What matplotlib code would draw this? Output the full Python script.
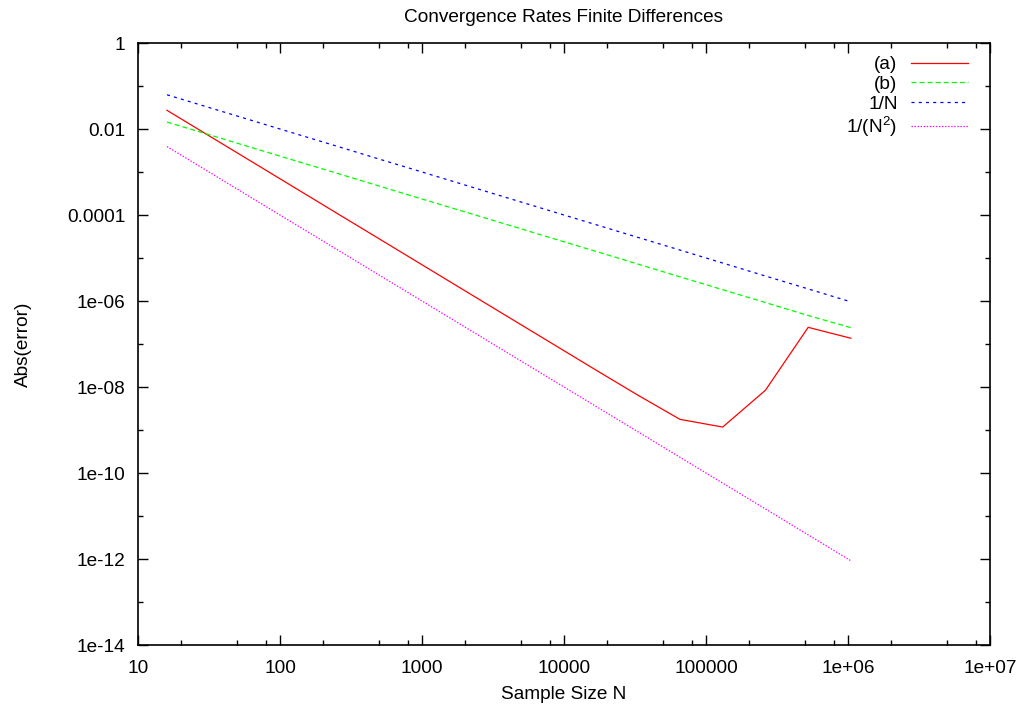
# -*- coding: utf-8 -*-

# convergence rates of two finite difference schemes, log-log

import numpy as np
import matplotlib
matplotlib.use('Agg')
import matplotlib.pyplot as plt
from matplotlib.ticker import LogLocator, FixedLocator, NullFormatter

# %% ======================== data ==========================================

# sample sizes N = 2^4 ... 2^20
N = [16, 32, 64, 128, 256, 512, 1024, 2048, 4096, 8192, 16384, 32768,
     65536, 131072, 262144, 524288, 1048576]

# absolute error, scheme (a)
err_a = [2.72e-2, 6.8e-3, 1.7e-3, 4.25e-4, 1.06e-4, 2.66e-5, 6.64e-6,
         1.66e-6, 4.15e-7, 1.04e-7, 2.6e-8, 6.6e-9, 1.77e-9, 1.17e-9,
         8.4e-9, 2.44e-7, 1.36e-7]

# absolute error, scheme (b)
err_b = [1.45e-2, 7.3e-3, 3.65e-3, 1.83e-3, 9.2e-4, 4.6e-4, 2.3e-4,
         1.16e-4, 5.8e-5, 2.9e-5, 1.46e-5, 7.3e-6, 3.65e-6, 1.83e-6,
         9.2e-7, 4.6e-7, 2.4e-7]

# reference slopes
ref_1 = [6.25e-2, 3.125e-2, 1.5625e-2, 7.81e-3, 3.91e-3, 1.95e-3, 9.77e-4,
         4.88e-4, 2.44e-4, 1.22e-4, 6.10e-5, 3.05e-5, 1.53e-5, 7.63e-6,
         3.81e-6, 1.91e-6, 9.54e-7]
ref_2 = [3.91e-3, 9.77e-4, 2.44e-4, 6.10e-5, 1.53e-5, 3.81e-6, 9.54e-7,
         2.38e-7, 5.96e-8, 1.49e-8, 3.73e-9, 9.31e-10, 2.33e-10, 5.82e-11,
         1.46e-11, 3.64e-12, 9.09e-13]

etiquetas = ['(a)', '(b)', '1/N', '1/(N$^2$)']
colores = ['#ff0000', '#00ff00', '#0000ff', '#ff00ff']

y_ticks = [1, 1e-2, 1e-4, 1e-6, 1e-8, 1e-10, 1e-12, 1e-14]
y_tick_labels = ['1', '0.01', '0.0001', '1e-06', '1e-08', '1e-10', '1e-12',
                 '1e-14']
x_ticks = [10, 100, 1000, 10000, 100000, 1e6, 1e7]
x_tick_labels = ['10', '100', '1000', '10000', '100000', '1e+06', '1e+07']

# %% ======================== figure ========================================

plt.rcParams['font.family'] = ['Liberation Sans', 'DejaVu Sans']
plt.rcParams['mathtext.fontset'] = 'custom'
plt.rcParams['mathtext.rm'] = 'Liberation Sans'
plt.rcParams['mathtext.default'] = 'regular'
plt.rcParams['lines.scale_dashes'] = False

fs = 13.7

fig = plt.figure(figsize=(10.22, 7.11), dpi=100)
ax = fig.add_axes([138/1022, 66/711, 852/1022, 602/711])

estilos = ['-', (0, (3.6, 2.2)), (0, (2.2, 3.0)), (0, (1.0, 1.2))]
series = [err_a, err_b, ref_1, ref_2]
for s, lab, c, ls in zip(series, etiquetas, colores, estilos):
    ax.plot(N, s, color=c, linestyle=ls, lw=0.9, label=lab)

ax.set_xscale('log')
ax.set_yscale('log')
ax.set_xlim(10, 1e7)
ax.set_ylim(1e-14, 1)

ax.xaxis.set_major_locator(FixedLocator(x_ticks))
ax.set_xticklabels(x_tick_labels)
ax.xaxis.set_minor_locator(LogLocator(base=10, subs=[2, 5, 8]))
ax.xaxis.set_minor_formatter(NullFormatter())

ax.yaxis.set_major_locator(FixedLocator(y_ticks))
ax.set_yticklabels(y_tick_labels)
ax.yaxis.set_minor_locator(FixedLocator([1e-1, 1e-3, 1e-5, 1e-7, 1e-9,
                                         1e-11, 1e-13]))
ax.yaxis.set_minor_formatter(NullFormatter())

ax.tick_params(which='both', direction='in', top=True, right=True,
               labelsize=fs, width=1)
ax.tick_params(which='major', length=7)
ax.tick_params(which='minor', length=3.5)
ax.tick_params(axis='x', which='major', pad=10.5)
ax.tick_params(axis='y', which='major', pad=9)
for sp in ax.spines.values():
    sp.set_linewidth(1.2)

ax.set_title('Convergence Rates Finite Differences', fontsize=fs, pad=15)
ax.set_xlabel('Sample Size N', fontsize=fs, labelpad=7)
ax.set_ylabel('Abs(error)', fontsize=fs, labelpad=25)

ax.legend(loc='upper right', bbox_to_anchor=(1 - 22/852, 1 - 13/602),
          frameon=False, markerfirst=False, fontsize=fs, handlelength=3.0,
          handletextpad=0.7, labelspacing=0.12, borderpad=0,
          borderaxespad=0)

fig.savefig('out.png', dpi=100)
